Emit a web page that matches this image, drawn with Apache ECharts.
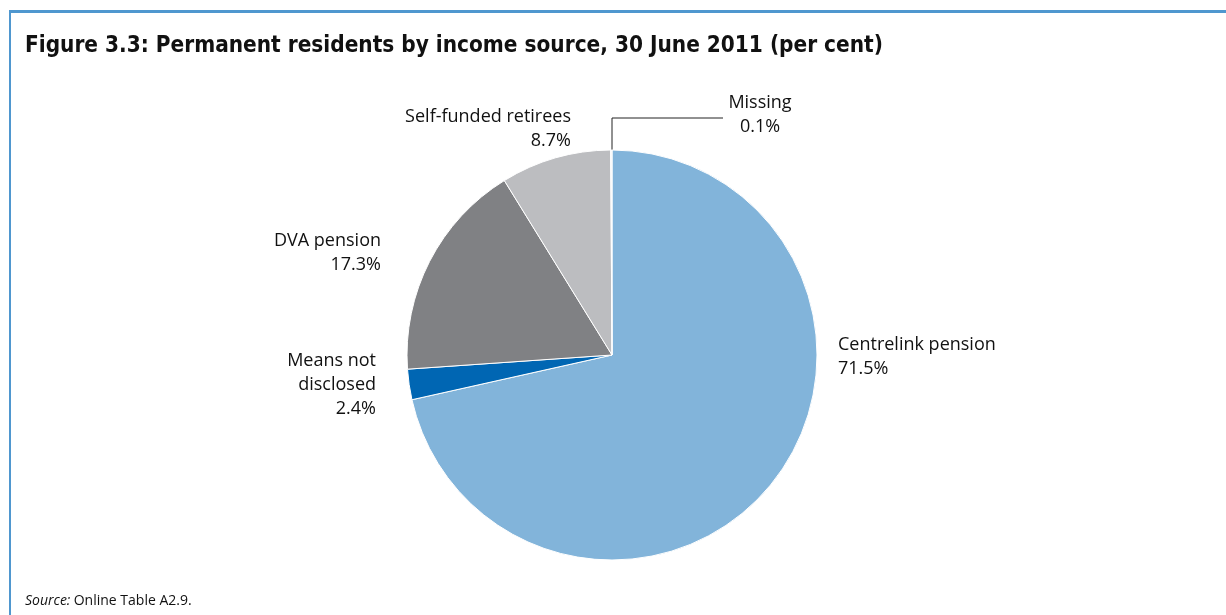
<!DOCTYPE html>
<html>
<head>
<meta charset="utf-8">
<script src="https://cdn.jsdelivr.net/npm/echarts@6/dist/echarts.min.js"></script>
<style>
  html, body { margin: 0; padding: 0; background: #fff; }
  #chart { width: 1226px; height: 615px; }
</style>
</head>
<body>
<div id="chart"></div>
<script>
// Income sources of permanent residents, 30 June 2011 (per cent)
const categories = ['Centrelink pension', 'Means not\ndisclosed', 'DVA pension', 'Self-funded retirees', 'Missing'];
const shares = [71.5, 2.4, 17.3, 8.7, 0.1];
const sliceColors = ['#82b4da', '#0066b3', '#808184', '#bcbdc0', '#f4f4f4'];

// label anchor per slice: [x, y, align]
const labelAnchors = [
  [838, 357, 'left'],
  [376, 385, 'right'],
  [381, 253, 'right'],
  [571, 129, 'right'],
  [760, 115, 'center']
];

const chart = echarts.init(document.getElementById('chart'));

chart.setOption({
  animation: false,
  backgroundColor: '#ffffff',
  title: {
    text: 'Figure 3.3: Permanent residents by income source, 30 June 2011 (per cent)',
    left: 20,
    top: 30,
    textStyle: {
      fontFamily: '"DejaVu Sans Condensed", "DejaVu Sans", sans-serif',
      fontWeight: 'bold',
      fontSize: 22.4,
      color: '#111111'
    }
  },
  graphic: [
    { type: 'line', shape: { x1: 9, y1: 11.5, x2: 1226, y2: 11.5 }, style: { stroke: '#4f97cf', lineWidth: 3 } },
    { type: 'line', shape: { x1: 10, y1: 10, x2: 10, y2: 615 }, style: { stroke: '#4f97cf', lineWidth: 2 } },
    {
      type: 'text', left: 25, top: 594,
      style: {
        rich: {
          i: { fontStyle: 'italic', fontFamily: 'Open Sans', fontSize: 14, fill: '#111' },
          n: { fontFamily: 'Open Sans', fontSize: 14, fill: '#111' }
        },
        text: '{i|Source:} {n|Online Table A2.9.}'
      }
    }
  ],
  series: [{
    type: 'pie',
    center: [612, 355],
    radius: [0, 205],
    startAngle: 90,
    clockwise: true,
    avoidLabelOverlap: false,
    itemStyle: { borderColor: '#ffffff', borderWidth: 1 },
    label: {
      show: true,
      formatter: p => p.name + '\n' + p.value.toFixed(1) + '%',
      fontFamily: 'Open Sans',
      fontSize: 18,
      lineHeight: 24,
      color: '#111111'
    },
    labelLine: { show: false },
    labelLayout: params => {
      const a = labelAnchors[params.dataIndex];
      const out = { x: a[0], y: a[1], align: a[2], verticalAlign: 'middle' };
      if (params.dataIndex === 4) {
        out.labelLinePoints = [[612, 150], [612, 118], [723, 118]];
      }
      return out;
    },
    data: categories.map((name, i) => ({
      name: name,
      value: shares[i],
      itemStyle: { color: sliceColors[i] },
      labelLine: i === 4 ? { show: true, lineStyle: { color: '#222', width: 1 } } : { show: false }
    }))
  }]
});
</script>
</body>
</html>
